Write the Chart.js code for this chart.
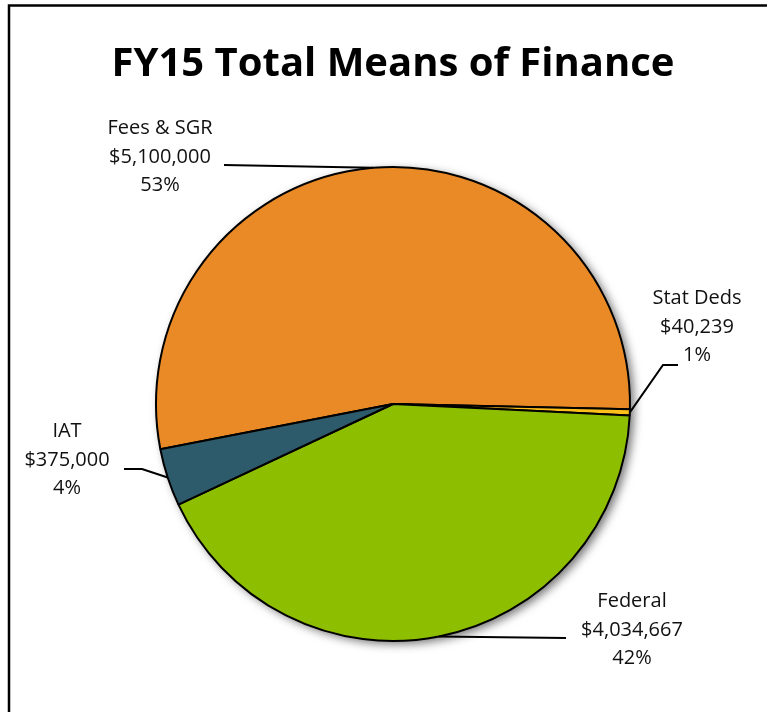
<!DOCTYPE html>
<html>
<head>
<meta charset="utf-8">
<script src="https://cdn.jsdelivr.net/npm/chart.js@4.4.0/dist/chart.umd.min.js"></script>
<style>
  html, body { margin: 0; padding: 0; background: #fff; }
  #wrap { width: 767px; height: 712px; position: relative; }
</style>
</head>
<body>
<div id="wrap"><canvas id="financeChart"></canvas></div>
<script>
// Chart data
const chartTitle = 'FY15 Total Means of Finance';
const categories = ['Fees & SGR', 'Stat Deds', 'Federal', 'IAT'];
const amounts = [5100000, 40239, 4034667, 375000];
const percentLabels = ['53%', '1%', '42%', '4%'];
const sliceColors = ['#E98A27', '#FDC01A', '#8EBE00', '#2E5B6B'];

// label placement (centre of the middle text line) and leader elbows, per slice
const labelLayout = [
    { x: 160, y: 157, line: [[224, 165]] },
    { x: 697, y: 327, line: [[678, 365], [663, 365]] },
    { x: 632, y: 630, line: [[566, 638]] },
    { x: 67,  y: 460, line: [[124, 469], [142, 469]] }
];

const fmtMoney = v => '$' + v.toLocaleString('en-US');

// frame around the chart (cut off at right and bottom)
const framePlugin = {
    id: 'frame',
    beforeDraw(chart) {
        const c = chart.ctx;
        c.save();
        c.strokeStyle = '#000';
        c.lineWidth = 2.5;
        c.beginPath();
        c.moveTo(9, 730);
        c.lineTo(9, 5.5);
        c.lineTo(780, 5.5);
        c.stroke();
        c.restore();
    }
};

// soft drop shadow behind the pie
const shadowPlugin = {
    id: 'pieShadow',
    beforeDatasetsDraw(chart) {
        const arc = chart.getDatasetMeta(0).data[0];
        if (!arc) return;
        const c = chart.ctx;
        c.save();
        c.shadowColor = 'rgba(0,0,0,0.55)';
        c.shadowBlur = 10;
        c.shadowOffsetX = 4;
        c.shadowOffsetY = 3;
        c.fillStyle = '#fff';
        c.beginPath();
        c.arc(arc.x, arc.y, arc.outerRadius, 0, Math.PI * 2);
        c.fill();
        c.restore();
    }
};

// title, data labels and leader lines
const labelPlugin = {
    id: 'pieLabels',
    afterDraw(chart) {
        const c = chart.ctx;
        const meta = chart.getDatasetMeta(0);

        c.save();
        c.fillStyle = '#000';
        c.font = 'bold 40px "Open Sans"';
        const tw = c.measureText(chartTitle).width;
        const sx = Math.min(1, 571 / tw);
        c.translate(393, 76);
        c.scale(sx, 1);
        c.textAlign = 'center';
        c.textBaseline = 'alphabetic';
        c.fillText(chartTitle, 0, 0);
        c.restore();

        meta.data.forEach((arc, i) => {
            const p = arc.getProps(['x', 'y', 'startAngle', 'endAngle', 'outerRadius'], true);
            const mid = (p.startAngle + p.endAngle) / 2;
            const ax = p.x + Math.cos(mid) * p.outerRadius;
            const ay = p.y + Math.sin(mid) * p.outerRadius;
            const lay = labelLayout[i];

            c.save();
            c.strokeStyle = '#000';
            c.lineWidth = 2;
            c.beginPath();
            c.moveTo(lay.line[0][0], lay.line[0][1]);
            lay.line.slice(1).forEach(pt => c.lineTo(pt[0], pt[1]));
            c.lineTo(ax, ay);
            c.stroke();

            c.fillStyle = '#111';
            c.font = '20px "Open Sans"';
            c.textAlign = 'center';
            c.textBaseline = 'middle';
            const lines = [categories[i], fmtMoney(amounts[i]), percentLabels[i]];
            lines.forEach((t, k) => c.fillText(t, lay.x, lay.y + (k - 1) * 28.5));
            c.restore();
        });
    }
};

const ctx = document.getElementById('financeChart').getContext('2d');
new Chart(ctx, {
    type: 'pie',
    data: {
        labels: categories,
        datasets: [{
            data: amounts,
            backgroundColor: sliceColors,
            borderColor: '#000',
            borderWidth: 2,
            hoverOffset: 0
        }]
    },
    options: {
        responsive: true,
        maintainAspectRatio: false,
        animation: false,
        rotation: -101,
        radius: 237,
        layout: {
            padding: { left: 159, right: 140, top: 166, bottom: 70 }
        },
        plugins: {
            legend: { display: false },
            tooltip: { enabled: false },
            title: { display: false }
        }
    },
    plugins: [framePlugin, shadowPlugin, labelPlugin]
});
</script>
</body>
</html>
